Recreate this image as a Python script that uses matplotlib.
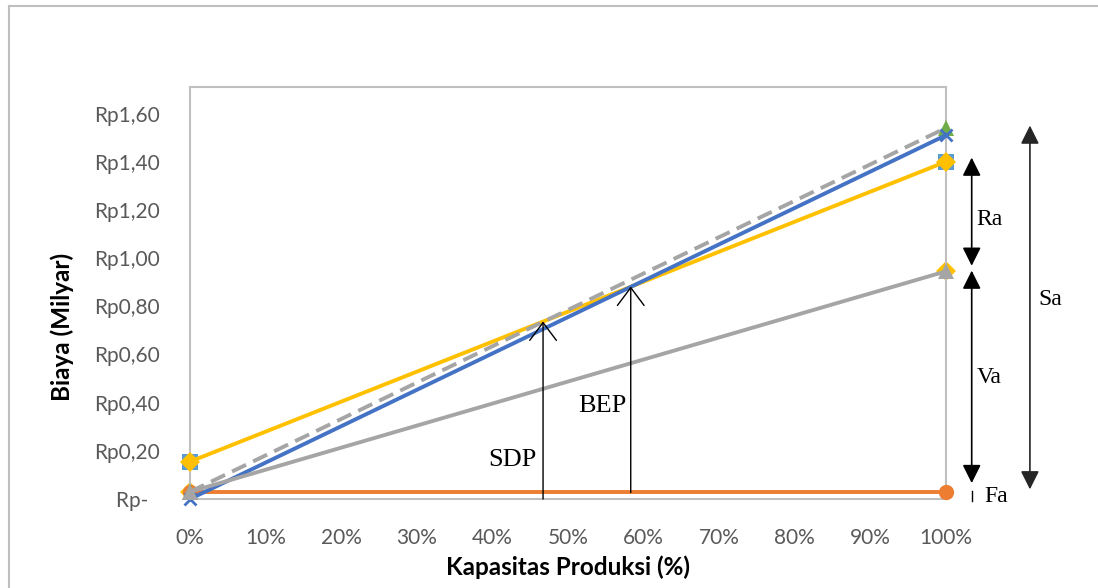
import matplotlib.pyplot as plt
from matplotlib.lines import Line2D

# Kapasitas produksi (%)
kapasitas = [0, 100]

# Biaya / pendapatan (Milyar Rp)
pendapatan = [0.155, 1.40]      # kuning
pendapatan_sq = [0.155, 1.40]   # kotak biru muda di belakang
biaya_total = [0.0, 1.51]       # biru
biaya_tetap = [0.027, 0.027]    # oranye
biaya_variabel = [0.03, 0.945]  # abu-abu
biaya_total2 = [0.03, 1.54]     # abu-abu putus-putus, segitiga hijau

# titik SDP dan BEP
sdp_x, sdp_y = 46.7, 0.737
bep_x, bep_y = 58.3, 0.882

y_ticks = [0, 0.2, 0.4, 0.6, 0.8, 1.0, 1.2, 1.4, 1.6]
y_labels = ['Rp-  ', 'Rp0,20', 'Rp0,40', 'Rp0,60', 'Rp0,80',
            'Rp1,00', 'Rp1,20', 'Rp1,40', 'Rp1,60']
x_ticks = list(range(0, 101, 10))
x_labels = [f'{v}%' for v in x_ticks]

fig = plt.figure(figsize=(10.98, 5.88), dpi=100)
ax = fig.add_axes([190 / 1098, 1 - 499 / 588, 756 / 1098, 412 / 588])

lw = 2.8
ax.plot(kapasitas, pendapatan_sq, ls='none', marker='s', ms=12, mew=0,
        color='#5B9BD5', zorder=2, clip_on=False)
ax.plot(kapasitas, pendapatan, color='#FFC000', lw=lw, marker='D', ms=10,
        mew=0, zorder=3, clip_on=False)
ax.plot(kapasitas, biaya_variabel, ls='none', marker='D', ms=10, mew=0,
        color='#FFC000', zorder=2, clip_on=False)
ax.plot(kapasitas, biaya_tetap, color='#ED7D31', lw=lw, marker='o', ms=11,
        mew=0, zorder=3, clip_on=False)
ax.plot(kapasitas, biaya_total2, color='#A5A5A5', lw=lw, ls=(0, (4, 2)),
        marker='^', ms=12, mew=0, mfc='#70AD47', zorder=4, clip_on=False)
ax.plot(kapasitas, biaya_total, color='#4472C4', lw=lw, marker='x', ms=9,
        mew=2, zorder=5, clip_on=False)
ax.plot(kapasitas, biaya_variabel, color='#A5A5A5', lw=lw, marker='^', ms=12,
        mew=0, zorder=6, clip_on=False)

ax.set_xlim(0, 100)
ax.set_ylim(0, 1.71)
ax.set_xticks(x_ticks)
ax.set_xticklabels(x_labels)
ax.set_yticks(y_ticks)
ax.set_yticklabels(y_labels)
ax.tick_params(length=0, labelsize=15, labelcolor='#595959')
ax.tick_params(axis='x', pad=21)
ax.tick_params(axis='y', pad=22)
for lab in ax.get_xticklabels() + ax.get_yticklabels():
    lab.set_fontfamily('Lato')
for s in ax.spines.values():
    s.set_color('#BFBFBF')
    s.set_linewidth(1.5)

fig.text(568 / 1098, 1 - 567 / 588, 'Kapasitas Produksi (%)', ha='center',
         va='center', fontsize=17.5, fontweight='bold', family='Lato')
fig.text(62 / 1098, 1 - 327 / 588, 'Biaya (Milyar)', ha='center',
         va='center', rotation=90, fontsize=17.5, fontweight='bold',
         family='Lato')

# panah SDP dan BEP
open_arrow = dict(arrowstyle='->,head_length=0.4,head_width=0.3',
                  mutation_scale=32, color='black', lw=1, shrinkA=0, shrinkB=0)
ax.annotate('', xy=(sdp_x, sdp_y), xytext=(sdp_x, 0), arrowprops=open_arrow,
            zorder=7)
ax.annotate('', xy=(bep_x, bep_y), xytext=(bep_x, biaya_tetap[0]),
            arrowprops=open_arrow, zorder=7)
serif = 'Liberation Serif'
ax.text(42.7, 0.162, 'SDP', ha='center', va='center', fontsize=19, family=serif)
ax.text(54.6, 0.387, 'BEP', ha='center', va='center', fontsize=19, family=serif)

# panah di kanan (Ra, Va, Sa, Fa)
dbl = dict(arrowstyle='<|-|>,head_length=0.4,head_width=0.2',
           mutation_scale=28, color='black', lw=1.2, shrinkA=0, shrinkB=0)
ax.annotate('', xy=(103.4, 1.417), xytext=(103.4, 0.968), arrowprops=dbl,
            annotation_clip=False)
ax.annotate('', xy=(103.4, 0.948), xytext=(103.4, 0.066), arrowprops=dbl,
            annotation_clip=False)
dbl_sa = dict(dbl, color='#262626')
ax.annotate('', xy=(111.1, 1.55), xytext=(111.1, 0.04), arrowprops=dbl_sa,
            annotation_clip=False)
ax.plot([103.4, 103.4], [0.033, -0.008], color='black', lw=1, clip_on=False)
ax.text(105.7, 1.16, 'Ra', ha='center', va='center', fontsize=17,
        family=serif, clip_on=False)
ax.text(105.7, 0.503, 'Va', ha='center', va='center', fontsize=17,
        family=serif, clip_on=False)
ax.text(113.8, 0.83, 'Sa', ha='center', va='center', fontsize=17,
        family=serif, clip_on=False)
ax.text(106.6, 0.012, 'Fa', ha='center', va='center', fontsize=17,
        family=serif, clip_on=False)

# garis tepi luar chart
fig.add_artist(Line2D([9 / 1098, 1], [1 - 5.5 / 588, 1 - 5.5 / 588],
                      color='#BFBFBF', lw=1.5))
fig.add_artist(Line2D([9 / 1098, 9 / 1098], [0, 1 - 5.5 / 588],
                      color='#BFBFBF', lw=1.5))

fig.savefig('out.png', dpi=100)
